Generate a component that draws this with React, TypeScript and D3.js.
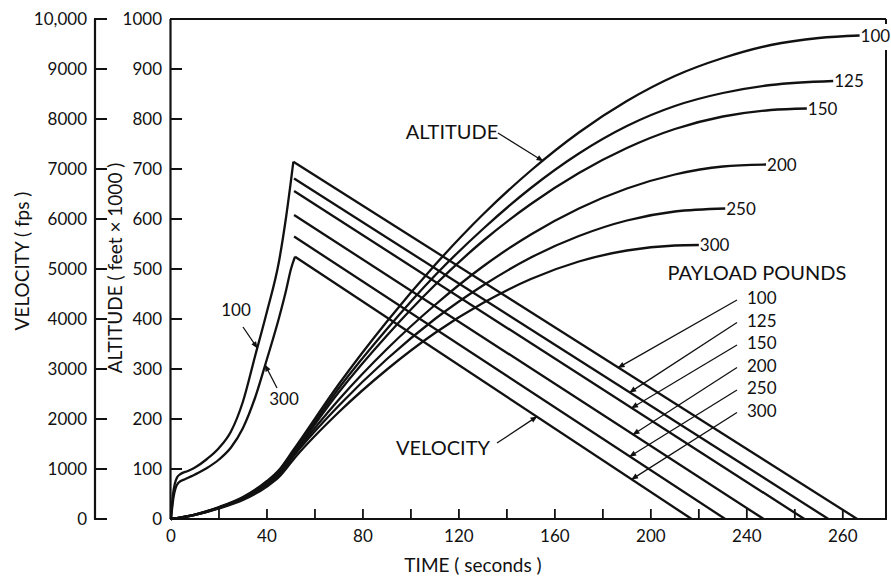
import React from "react";
import * as d3 from "d3";

const W = 891;
const H = 581;
const FONT = "Lato, 'Open Sans', 'DejaVu Sans', sans-serif";

// ---------- data ----------
const payloadLabels = ["100", "125", "150", "200", "250", "300"];

// velocity after burnout (fps): straight descent from burnout peak to zero
const burnoutTime = [51, 51.3, 51.3, 51.3, 51.3, 51.7];
const burnoutVelocity = [7146, 6810, 6560, 6080, 5650, 5246];
const zeroVelocityTime = [286, 274, 264, 247, 231, 217];

// velocity during burn (only 100 and 300 lb drawn)
const riseTime100 = [0, 0.8, 2.5, 4, 7, 10, 15, 20, 25, 30, 35, 40, 45, 48, 51];
const riseVel100 = [0, 480, 830, 900, 960, 1030, 1200, 1420, 1750, 2350, 3250, 4150, 5150, 6050, 7146];
const riseTime300 = [0, 1, 3, 6, 10, 15, 20, 25, 30, 35, 40, 45, 48, 50, 51.7];
const riseVel300 = [0, 420, 720, 800, 890, 1020, 1190, 1430, 1820, 2420, 3200, 4020, 4580, 5000, 5246];

// altitude (feet x 1000)
const altTime100 = [0, 10, 20, 30, 40, 45, 51, 70, 90, 110, 130, 150, 170, 190, 210, 230, 250, 270, 287];
const altValue100 = [0, 9, 24, 44, 76, 98, 138, 270, 395, 508, 609, 697, 773, 836, 886, 922, 948, 962, 967];
const altTime125 = [0, 10, 20, 30, 40, 45, 51.3, 70, 90, 110, 130, 150, 170, 190, 210, 230, 250, 276];
const altValue125 = [0, 9, 23, 43, 74, 96, 136, 262, 380, 487, 580, 662, 731, 786, 826, 852, 868, 876];
const altTime150 = [0, 10, 20, 30, 40, 45, 51.3, 70, 90, 110, 130, 150, 170, 190, 210, 230, 250, 265];
const altValue150 = [0, 9, 23, 42, 72, 94, 133, 254, 367, 468, 556, 630, 692, 742, 780, 805, 818, 821];
const altTime200 = [0, 10, 20, 30, 40, 45, 51.3, 70, 90, 110, 130, 150, 170, 190, 210, 230, 248];
const altValue200 = [0, 8, 22, 41, 70, 91, 130, 239, 340, 428, 505, 569, 621, 661, 689, 705, 709];
const altTime250 = [0, 10, 20, 30, 40, 45, 51.3, 70, 90, 110, 130, 150, 170, 190, 210, 231];
const altValue250 = [0, 8, 22, 40, 68, 88, 127, 227, 320, 400, 467, 523, 566, 597, 615, 621];
const altTime300 = [0, 10, 20, 30, 40, 45, 51.7, 70, 90, 110, 130, 150, 170, 190, 210, 220];
const altValue300 = [0, 8, 21, 38, 65, 84, 123, 214, 299, 372, 432, 480, 515, 537, 547, 548];

const altTimes = [altTime100, altTime125, altTime150, altTime200, altTime250, altTime300];
const altValues = [altValue100, altValue125, altValue150, altValue200, altValue250, altValue300];

// axes
const velocityTicks = [0, 1000, 2000, 3000, 4000, 5000, 6000, 7000, 8000, 9000, 10000];
const velocityTickLabels = ["0", "1000", "2000", "3000", "4000", "5000", "6000", "7000", "8000", "9000", "10,000"];
const altitudeTicks = [0, 100, 200, 300, 400, 500, 600, 700, 800, 900, 1000];
const timeTicks = [20, 40, 60, 80, 100, 120, 140, 160, 180, 200, 220, 240, 260, 280];
const timeLabelPositions = [0, 40, 80, 120, 160, 200, 240, 280];
const timeLabelTexts = ["0", "40", "80", "120", "160", "200", "240", "260"];

// annotation anchor times (where arrows touch curves)
const legendTipTimes = [186.4, 191.2, 192, 192.6, 191.2, 192];
const altitudeArrowTime = 155;
const velocityArrowTime = 152.5;
const riseArrowVel100 = 3420;
const riseArrowVel300 = 3080;

// ---------- scales ----------
const x = d3.scaleLinear().domain([0, 298]).range([171, 886]);
const yAlt = d3.scaleLinear().domain([0, 1000]).range([519, 19]);
const yVel = d3.scaleLinear().domain([0, 10000]).range([519, 19]);

const velAt = (i: number, t: number) =>
  (burnoutVelocity[i] * (zeroVelocityTime[i] - t)) / (zeroVelocityTime[i] - burnoutTime[i]);

function altAt(i: number, t: number) {
  const ts = altTimes[i];
  const vs = altValues[i];
  for (let k = 0; k < ts.length - 1; k++) {
    if (t >= ts[k] && t <= ts[k + 1]) {
      return vs[k] + ((vs[k + 1] - vs[k]) * (t - ts[k])) / (ts[k + 1] - ts[k]);
    }
  }
  return vs[vs.length - 1];
}
function timeAtVel(ts: number[], vs: number[], v: number) {
  for (let k = 0; k < ts.length - 1; k++) {
    if (v >= vs[k] && v <= vs[k + 1]) {
      return ts[k] + ((ts[k + 1] - ts[k]) * (v - vs[k])) / (vs[k + 1] - vs[k]);
    }
  }
  return ts[ts.length - 1];
}

const lineGen = d3
  .line<[number, number]>()
  .x((d) => d[0])
  .y((d) => d[1])
  .curve(d3.curveMonotoneX);

export default function App() {
  const stroke = "#111";
  const curveW = 2.3;

  const altPaths = altTimes.map((ts, i) =>
    lineGen(ts.map((t, k) => [x(t), yAlt(altValues[i][k])] as [number, number]))
  );
  const rise100 = lineGen(riseTime100.map((t, k) => [x(t), yVel(riseVel100[k])] as [number, number]));
  const rise300 = lineGen(riseTime300.map((t, k) => [x(t), yVel(riseVel300[k])] as [number, number]));

  const tip100t = timeAtVel(riseTime100, riseVel100, riseArrowVel100);
  const tip300t = timeAtVel(riseTime300, riseVel300, riseArrowVel300);

  const legendX = 747;
  const legendY0 = 298;
  const legendStep = 22.5;

  return (
    <svg
      width={W}
      height={H}
      viewBox={`0 0 ${W} ${H}`}
      style={{ position: "absolute", left: 0, top: 0, display: "block", background: "#fff" }}
      fontFamily={FONT}
    >
      <defs>
        <marker id="arr" viewBox="0 0 10 10" refX="9" refY="5" markerWidth="8" markerHeight="7" markerUnits="userSpaceOnUse" orient="auto">
          <path d="M0,1 L10,5 L0,9 z" fill={stroke} />
        </marker>
      </defs>
      <rect width={W} height={H} fill="#fff" />

      {/* velocity axis */}
      <line x1={95} x2={95} y1={yVel(10000)} y2={yVel(0)} stroke={stroke} strokeWidth={2.2} />
      {velocityTicks.map((v, i) => (
        <g key={"vt" + v}>
          <line x1={94} x2={107} y1={yVel(v)} y2={yVel(v)} stroke={stroke} strokeWidth={2} />
          <text x={87} y={yVel(v)} dy="0.36em" textAnchor="end" fontSize={17} fill={stroke}>
            {velocityTickLabels[i]}
          </text>
        </g>
      ))}
      <text
        transform={`translate(22,${261}) rotate(-90)`}
        textAnchor="middle"
        dy="0.36em"
        fontSize={19}
        fill={stroke}
      >
        VELOCITY ( fps )
      </text>

      {/* altitude axis */}
      <line x1={170.5} x2={170.5} y1={yAlt(1000)} y2={yAlt(0)} stroke={stroke} strokeWidth={2.2} />
      {altitudeTicks.map((a) => (
        <g key={"at" + a}>
          <line x1={170} x2={182} y1={yAlt(a)} y2={yAlt(a)} stroke={stroke} strokeWidth={2} />
          <text x={162} y={yAlt(a)} dy="0.36em" textAnchor="end" fontSize={17} fill={stroke}>
            {a}
          </text>
        </g>
      ))}
      <text
        transform={`translate(115,${268}) rotate(-90)`}
        textAnchor="middle"
        dy="0.36em"
        fontSize={19}
        fill={stroke}
      >
        ALTITUDE ( feet × 1000 )
      </text>

      {/* frame */}
      <line x1={170} x2={886} y1={yAlt(1000)} y2={yAlt(1000)} stroke={stroke} strokeWidth={2} />
      <line x1={886} x2={886} y1={yAlt(1000)} y2={24} stroke={stroke} strokeWidth={2} />
      <line x1={886} x2={886} y1={50} y2={yAlt(0)} stroke={stroke} strokeWidth={2} />
      <line x1={170} x2={887} y1={yAlt(0)} y2={yAlt(0)} stroke={stroke} strokeWidth={2.2} />

      {/* time axis */}
      {timeTicks.map((t) => (
        <line key={"tt" + t} x1={x(t)} x2={x(t)} y1={yAlt(0)} y2={yAlt(0) - 10} stroke={stroke} strokeWidth={1.8} />
      ))}
      {timeLabelPositions.map((t, i) => (
        <text key={"tl" + t} x={x(t)} y={542} textAnchor="middle" fontSize={17} fill={stroke}>
          {timeLabelTexts[i]}
        </text>
      ))}
      <text x={473} y={572} textAnchor="middle" fontSize={19} fill={stroke}>
        TIME ( seconds )
      </text>

      {/* velocity rise curves */}
      <path d={rise100 || ""} fill="none" stroke={stroke} strokeWidth={curveW} />
      <path d={rise300 || ""} fill="none" stroke={stroke} strokeWidth={curveW} />

      {/* velocity descent lines */}
      {burnoutTime.map((tb, i) => (
        <line
          key={"vd" + i}
          x1={x(tb)}
          y1={yVel(burnoutVelocity[i])}
          x2={x(zeroVelocityTime[i])}
          y2={yVel(0)}
          stroke={stroke}
          strokeWidth={curveW}
        />
      ))}

      {/* altitude curves */}
      {altPaths.map((p, i) => (
        <path key={"ap" + i} d={p || ""} fill="none" stroke={stroke} strokeWidth={curveW} />
      ))}
      {altTimes.map((ts, i) => (
        <text
          key={"al" + i}
          x={x(ts[ts.length - 1]) + 1}
          y={yAlt(altValues[i][altValues[i].length - 1])}
          dy="0.36em"
          fontSize={17}
          fill={stroke}
        >
          {payloadLabels[i]}
        </text>
      ))}

      {/* rise labels */}
      <text x={236} y={310} dy="0.36em" textAnchor="middle" fontSize={17} fill={stroke}>100</text>
      <line x1={243} y1={327} x2={x(tip100t)} y2={yVel(riseArrowVel100)} stroke={stroke} strokeWidth={1.3} markerEnd="url(#arr)" />
      <text x={284} y={399} dy="0.36em" textAnchor="middle" fontSize={17} fill={stroke}>300</text>
      <line x1={277} y1={388} x2={x(tip300t)} y2={yVel(riseArrowVel300)} stroke={stroke} strokeWidth={1.3} markerEnd="url(#arr)" />

      {/* ALTITUDE annotation */}
      <text x={452} y={132} dy="0.36em" textAnchor="middle" fontSize={20} fill={stroke}>ALTITUDE</text>
      <line x1={498} y1={133} x2={x(altitudeArrowTime)} y2={yAlt(altAt(0, altitudeArrowTime))} stroke={stroke} strokeWidth={1.3} markerEnd="url(#arr)" />

      {/* VELOCITY annotation */}
      <text x={443} y={448} dy="0.36em" textAnchor="middle" fontSize={20} fill={stroke}>VELOCITY</text>
      <line x1={497} y1={443} x2={x(velocityArrowTime)} y2={yVel(velAt(5, velocityArrowTime))} stroke={stroke} strokeWidth={1.3} markerEnd="url(#arr)" />

      {/* payload legend */}
      <text x={757} y={273} dy="0.36em" textAnchor="middle" fontSize={20} fill={stroke}>PAYLOAD POUNDS</text>
      {payloadLabels.map((p, i) => {
        const ly = legendY0 + i * legendStep;
        const tt = legendTipTimes[i];
        return (
          <g key={"lg" + p}>
            <text x={legendX} y={ly} dy="0.36em" fontSize={17} fill={stroke}>{p}</text>
            <line x1={legendX - 10} y1={ly + 2} x2={x(tt)} y2={yVel(velAt(i, tt))} stroke={stroke} strokeWidth={1.3} markerEnd="url(#arr)" />
          </g>
        );
      })}
    </svg>
  );
}
